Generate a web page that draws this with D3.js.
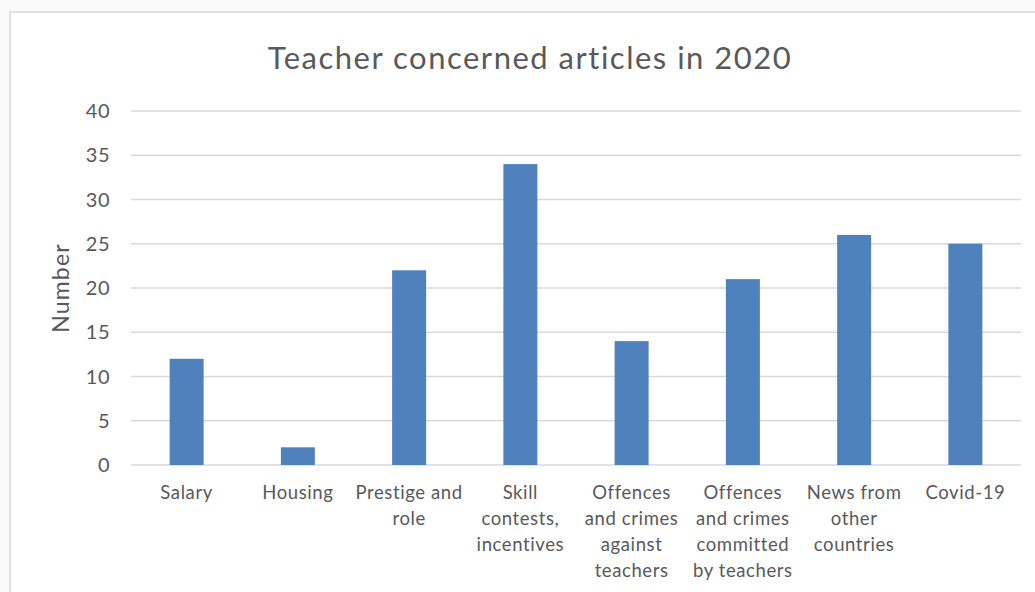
<!DOCTYPE html>
<html><head><meta charset="utf-8">
<script src="https://cdn.jsdelivr.net/npm/d3@7"></script>
<style>body{margin:0;background:#fafafa}svg{display:block}</style>
</head><body>
<script>
const categories = [
  ["Salary"],
  ["Housing"],
  ["Prestige and", "role"],
  ["Skill", "contests,", "incentives"],
  ["Offences", "and crimes", "against", "teachers"],
  ["Offences", "and crimes", "committed", "by teachers"],
  ["News from", "other", "countries"],
  ["Covid-19"]
];
const values = [12, 2, 22, 34, 14, 21, 26, 25];
const yTicks = [0, 5, 10, 15, 20, 25, 30, 35, 40];
const title = "Teacher concerned articles in 2020";
const yTitle = "Number";

const W = 1035, H = 592;
const font = "Lato, 'Open Sans', sans-serif";
const svg = d3.select("body").append("svg").attr("width", W).attr("height", H);

svg.append("rect").attr("x", 10).attr("y", 12).attr("width", W).attr("height", H)
  .attr("fill", "#fff").attr("stroke", "#d9d9d9").attr("stroke-width", 1.5);

const x = d3.scaleBand().domain(d3.range(categories.length)).range([131, 1021]).paddingInner(0).paddingOuter(0);
const y = d3.scaleLinear().domain([0, 40]).range([465, 111]);

svg.append("g").selectAll("line").data(yTicks).join("line")
  .attr("x1", 131).attr("x2", 1021)
  .attr("y1", d => y(d)).attr("y2", d => y(d))
  .attr("stroke", "#d9d9d9").attr("stroke-width", 1.5);

svg.append("g").selectAll("text").data(yTicks).join("text")
  .attr("x", 110).attr("y", d => y(d)).attr("dy", "0.35em")
  .attr("text-anchor", "end").attr("font-family", font).attr("font-size", 20)
  .attr("letter-spacing", 0.5)
  .attr("fill", "#595959").text(d => d);

const bw = 34;
svg.append("g").selectAll("rect").data(values).join("rect")
  .attr("x", (d, i) => x(i) + x.bandwidth() / 2 - bw / 2)
  .attr("width", bw)
  .attr("y", d => y(d)).attr("height", d => y(0) - y(d))
  .attr("fill", "#4f81bd");

const xl = svg.append("g").selectAll("text").data(categories).join("text")
  .attr("text-anchor", "middle").attr("font-family", font).attr("font-size", 18.5)
  .attr("letter-spacing", 0.6)
  .attr("fill", "#595959");
xl.each(function(lines, i) {
  d3.select(this).selectAll("tspan").data(lines).join("tspan")
    .attr("x", x(i) + x.bandwidth() / 2)
    .attr("y", (l, j) => 499 + j * 26)
    .text(l => l);
});

svg.append("text").attr("x", 530).attr("y", 69)
  .attr("text-anchor", "middle").attr("font-family", font).attr("font-size", 31)
  .attr("letter-spacing", 1.5)
  .attr("fill", "#595959").text(title);

svg.append("text").attr("transform", "translate(69,288) rotate(-90)")
  .attr("text-anchor", "middle").attr("font-family", font).attr("font-size", 23)
  .attr("letter-spacing", 1.2)
  .attr("fill", "#595959").text(yTitle);
</script>
</body></html>
